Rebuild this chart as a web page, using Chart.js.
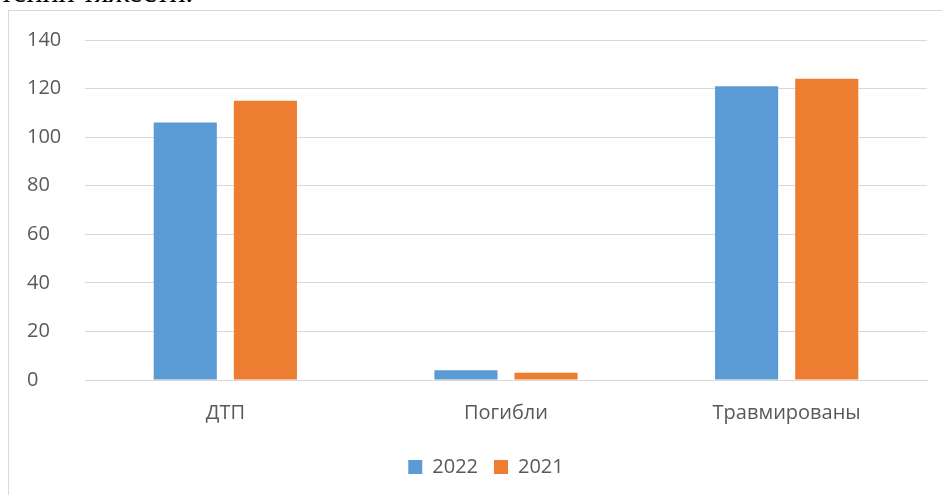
<!DOCTYPE html>
<html>
<head>
<meta charset="utf-8">
<script src="https://cdn.jsdelivr.net/npm/chart.js@4/dist/chart.umd.min.js"></script>
<style>
  html, body { margin: 0; padding: 0; background: #fff; overflow: hidden; }
  #page { position: relative; width: 942px; height: 495px; }
  #doc-text {
    position: absolute; left: 0; top: -23px;
    font: 30px "Liberation Serif", serif; color: #000;
    line-height: 30px; white-space: nowrap;
  }
  #frame {
    position: absolute; left: 8px; top: 10px; width: 960px; height: 520px;
    border: 1px solid #d9d9d9;
  }
  #chart-box { position: absolute; left: 0; top: 0; width: 942px; height: 495px; }
</style>
</head>
<body>
<div id="page">
  <div id="doc-text">тении тяжести.</div>
  <div id="frame"></div>
  <div id="chart-box"><canvas id="chart"></canvas></div>
</div>
<script>
const categories = ['ДТП', 'Погибли', 'Травмированы'];
const seriesNames = ['2022', '2021'];
const values2022 = [106, 4, 121];
const values2021 = [115, 3, 124];
const yTicks = [0, 20, 40, 60, 80, 100, 120, 140];

const textColor = '#595959';
const gridColor = '#d9d9d9';
const fontFamily = '"Open Sans", "Noto Sans", sans-serif';

// legend in the original sits a little right of the plot centre
const legendShift = {
  id: 'legendShift',
  afterLayout(chart) {
    const lg = chart.legend;
    if (!lg) return;
    lg.left += 9;
    lg.right += 9;
  },
};

new Chart(document.getElementById('chart'), {
  type: 'bar',
  data: {
    labels: categories,
    datasets: [
      { label: seriesNames[0], data: values2022, backgroundColor: '#5b9bd5' },
      { label: seriesNames[1], data: values2021, backgroundColor: '#ed7d31' },
    ],
  },
  options: {
    responsive: true,
    maintainAspectRatio: false,
    animation: false,
    datasets: { bar: { categoryPercentage: 0.571, barPercentage: 0.7875 } },
    layout: { padding: { left: 27, right: 15, top: 40, bottom: 8 } },
    scales: {
      x: {
        grid: { display: false },
        border: { display: true, color: gridColor },
        ticks: { color: textColor, padding: 13, font: { family: fontFamily, size: 20 } },
        afterFit: s => { s.height = 61; },
      },
      y: {
        min: yTicks[0],
        max: yTicks[yTicks.length - 1],
        afterBuildTicks: s => { s.ticks = yTicks.map(v => ({ value: v })); },
        grid: { color: gridColor, drawTicks: false },
        border: { display: false },
        ticks: { color: textColor, crossAlign: 'far', padding: 0, font: { family: fontFamily, size: 20 } },
        afterFit: s => { s.width = 58; },
      },
    },
    plugins: {
      legend: {
        position: 'bottom',
        labels: {
          color: textColor,
          boxWidth: 14,
          boxHeight: 14,
          padding: 16,
          font: { family: fontFamily, size: 20 },
        },
      },
      tooltip: { enabled: false },
    },
  },
  plugins: [legendShift],
});
</script>
</body>
</html>
